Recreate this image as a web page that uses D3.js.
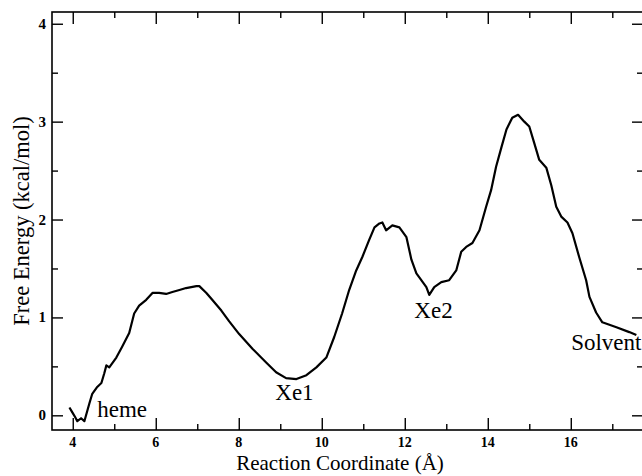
<!DOCTYPE html>
<html>
<head>
<meta charset="utf-8">
<script src="https://cdn.jsdelivr.net/npm/d3@7"></script>
<style>
  body { margin: 0; background: #fff; }
  svg text { font-family: "Liberation Serif", "Times New Roman", serif; fill: #000; }
</style>
</head>
<body>
<div id="plot-box"></div>
<script>
// reaction coordinate (Å) and free energy (kcal/mol)
const coordX = [3.92, 3.99, 4.06, 4.11, 4.20, 4.28, 4.40, 4.47, 4.59, 4.69, 4.76, 4.81, 4.88, 5.05, 5.19, 5.36,
  5.48, 5.60, 5.77, 5.92, 6.08, 6.25, 6.40, 6.57, 6.73, 6.98, 7.05, 7.22, 7.36, 7.58, 7.77, 8.01,
  8.33, 8.66, 8.90, 9.14, 9.39, 9.63, 9.87, 10.11, 10.30, 10.49, 10.66, 10.83, 10.98, 11.14, 11.27,
  11.39, 11.46, 11.55, 11.70, 11.87, 12.04, 12.16, 12.28, 12.35, 12.52, 12.59, 12.71, 12.88, 13.07,
  13.24, 13.36, 13.48, 13.63, 13.80, 13.96, 14.08, 14.20, 14.33, 14.45, 14.59, 14.73, 14.88, 15.00,
  15.12, 15.24, 15.41, 15.53, 15.65, 15.77, 15.92, 16.04, 16.20, 16.37, 16.45, 16.61, 16.76, 17.10,
  17.41, 17.58];
const energy = [0.08, 0.03, -0.02, -0.06, -0.03, -0.06, 0.12, 0.22, 0.29, 0.33, 0.43, 0.51, 0.49, 0.59, 0.70, 0.84,
  1.04, 1.12, 1.18, 1.25, 1.25, 1.24, 1.26, 1.28, 1.30, 1.32, 1.32, 1.25, 1.18, 1.07, 0.96, 0.83,
  0.68, 0.54, 0.44, 0.38, 0.37, 0.41, 0.49, 0.59, 0.80, 1.04, 1.28, 1.48, 1.62, 1.79, 1.92,
  1.96, 1.97, 1.89, 1.94, 1.92, 1.82, 1.59, 1.45, 1.41, 1.31, 1.23, 1.31, 1.36, 1.38,
  1.48, 1.67, 1.72, 1.76, 1.89, 2.13, 2.30, 2.54, 2.74, 2.92, 3.04, 3.07, 3.00, 2.95,
  2.78, 2.61, 2.53, 2.35, 2.13, 2.03, 1.97, 1.86, 1.62, 1.38, 1.21, 1.05, 0.95, 0.90,
  0.85, 0.82];

const xTicks = [4, 6, 8, 10, 12, 14, 16];
const xMinor = [5, 7, 9, 11, 13, 15, 17];
const yTicks = [0, 1, 2, 3, 4];
const yMinor = [0.5, 1.5, 2.5, 3.5];

const siteNames = ["heme", "Xe1", "Xe2", "Solvent"];
const siteX = [4.59, 8.88, 12.23, 16.01];
const siteY = [-0.02, 0.16, 0.99, 0.665];

const width = 642, height = 476;
const margin = {top: 12, right: -1, bottom: 46, left: 52};

const svg = d3.select("#plot-box")
  .append("svg")
  .attr("width", width)
  .attr("height", height);

const x = d3.scaleLinear().domain([3.5, 17.74]).range([margin.left, width - margin.right]);
const y = d3.scaleLinear().domain([-0.15, 4.12]).range([height - margin.bottom, margin.top]);

const xLeft = x.range()[0], xRight = x.range()[1];
const yBottom = y.range()[0], yTop = y.range()[1];

// frame
svg.append("rect")
  .attr("x", xLeft).attr("y", yTop)
  .attr("width", xRight - xLeft)
  .attr("height", yBottom - yTop)
  .attr("fill", "none").attr("stroke", "#000").attr("stroke-width", 1.6);

// inward ticks on all four sides
function ticks(axisFn, scale, values, size, pos) {
  svg.append("g")
    .attr("transform", pos)
    .call(axisFn(scale).tickValues(values).tickSize(size).tickFormat(""))
    .call(g => g.select(".domain").remove())
    .call(g => g.selectAll("line").attr("stroke", "#000").attr("stroke-width", 1.4));
}
ticks(d3.axisTop, x, xTicks, 12, `translate(0,${yBottom})`);
ticks(d3.axisTop, x, xMinor, 6, `translate(0,${yBottom})`);
ticks(d3.axisBottom, x, xTicks, 12, `translate(0,${yTop})`);
ticks(d3.axisBottom, x, xMinor, 6, `translate(0,${yTop})`);
ticks(d3.axisRight, y, yTicks, 11, `translate(${xLeft},0)`);
ticks(d3.axisRight, y, yMinor, 6, `translate(${xLeft},0)`);
ticks(d3.axisLeft, y, yTicks, 11, `translate(${xRight},0)`);
ticks(d3.axisLeft, y, yMinor, 6, `translate(${xRight},0)`);

// tick labels
svg.append("g").selectAll("text").data(xTicks).join("text")
  .attr("x", d => x(d)).attr("y", yBottom + 17)
  .attr("text-anchor", "middle")
  .attr("font-size", 14).attr("font-weight", "bold")
  .text(d => d);
svg.append("g").selectAll("text").data(yTicks).join("text")
  .attr("x", xLeft - 6).attr("y", d => y(d) + 5)
  .attr("text-anchor", "end")
  .attr("font-size", 15).attr("font-weight", "bold")
  .text(d => d);

// axis titles
svg.append("text")
  .attr("x", 340).attr("y", 470)
  .attr("text-anchor", "middle").attr("font-size", 21)
  .text("Reaction Coordinate (Å)");
svg.append("text")
  .attr("transform", "translate(29,221) rotate(-90)")
  .attr("text-anchor", "middle").attr("font-size", 22.5)
  .text("Free Energy (kcal/mol)");

// the profile
const pts = coordX.map((d, i) => [d, energy[i]]);
svg.append("path")
  .datum(pts)
  .attr("fill", "none")
  .attr("stroke", "#000")
  .attr("stroke-width", 2.2)
  .attr("stroke-linejoin", "round")
  .attr("d", d3.line().x(d => x(d[0])).y(d => y(d[1])));

// site labels
svg.append("g").selectAll("text").data(siteNames).join("text")
  .attr("x", (d, i) => x(siteX[i])).attr("y", (d, i) => y(siteY[i]))
  .attr("font-size", 23)
  .text(d => d);
</script>
</body>
</html>
